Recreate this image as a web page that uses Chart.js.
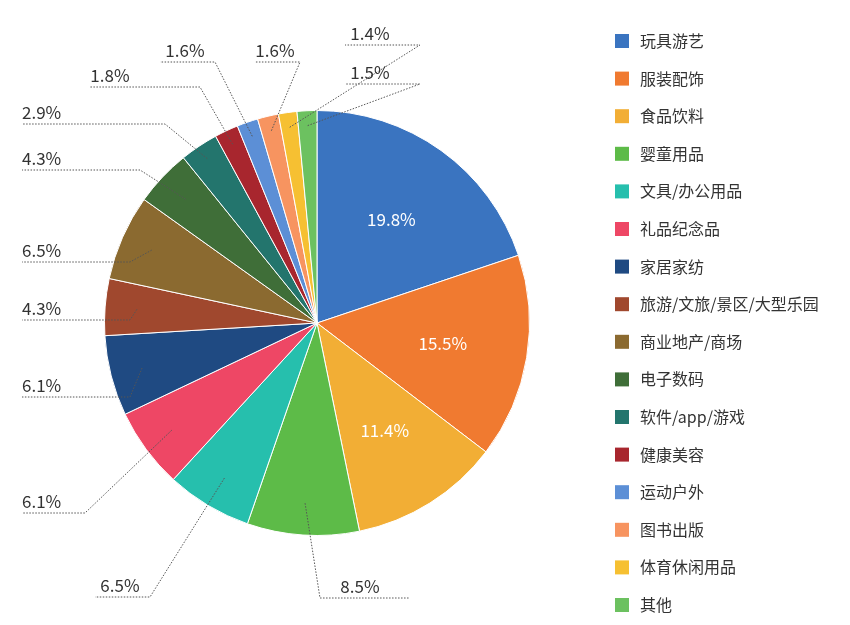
<!DOCTYPE html><html><head><meta charset="utf-8"><script src="https://cdn.jsdelivr.net/npm/chart.js@4"></script>
<style>body{margin:0;background:#fff}#w{width:850px;height:625px}</style></head><body><div id="w"><canvas id="c"></canvas></div>
<script>
const categories=["玩具游艺","服装配饰","食品饮料","婴童用品","文具/办公用品","礼品纪念品","家居家纺","旅游/文旅/景区/大型乐园","商业地产/商场","电子数码","软件/app/游戏","健康美容","运动户外","图书出版","体育休闲用品","其他"];
const shares=[19.8,15.5,11.4,8.5,6.5,6.1,6.1,4.3,6.5,4.3,2.9,1.8,1.6,1.6,1.4,1.5];
const colors=["#3a74c0","#f07a30","#f2ae35","#5dbb48","#26bfad","#ee4765","#1f4a82","#a0482e","#8b6a30","#3f6e38","#23756d","#a8262e","#5c8fd6","#f79460","#f6c032","#6cc160"];
const FONT='"Noto Sans CJK SC","Noto Sans",sans-serif';
// leader layout: [elbowX, elbowY, endX, textX, align]
const leaders={3:[320,598,410,360,'center'],4:[150,597,95,120,'center'],5:[85,513,22,22,'left'],6:[130,397,22,22,'left'],7:[130,320,22,22,'left'],8:[130,262,22,22,'left'],9:[140,170,22,22,'left'],10:[165,124,22,22,'left'],11:[200,87,90,110,'center'],12:[215,62,160,185,'center'],13:[300,62,255,275,'center'],14:[420,45,345,370,'center'],15:[420,84,345,370,'center']};
const labelPlugin={id:'lbl',afterDatasetsDraw(ch){
 const ctx=ch.ctx,meta=ch.getDatasetMeta(0);
 ctx.save();ctx.font='17px '+FONT;
 meta.data.forEach((a,i)=>{
  const mid=(a.startAngle+a.endAngle)/2,r=a.outerRadius;
  const t=shares[i].toFixed(1)+'%';
  if(!leaders[i]){ctx.fillStyle='#fff';ctx.textAlign='center';ctx.textBaseline='middle';
   ctx.fillText(t,a.x+Math.cos(mid)*r*0.6,a.y+Math.sin(mid)*r*0.6);return;}
  const L=leaders[i],k=shares[i]<3?0.93:0.85;
  const sx=a.x+Math.cos(mid)*r*k,sy=a.y+Math.sin(mid)*r*k;
  ctx.strokeStyle='#555';ctx.lineWidth=1;ctx.setLineDash([1.5,1.5]);
  ctx.beginPath();ctx.moveTo(sx,sy);ctx.lineTo(L[0],L[1]);ctx.lineTo(L[2],L[1]);ctx.stroke();
  ctx.setLineDash([]);ctx.fillStyle='#333';ctx.textAlign=L[4];ctx.textBaseline='bottom';
  ctx.fillText(t,L[3],L[1]-3);
 });
 ctx.font='16px '+FONT;ctx.textAlign='left';ctx.textBaseline='middle';
 categories.forEach((c,i)=>{const y=41+i*37.6;ctx.fillStyle=colors[i];ctx.fillRect(615,y-7,14,14);
  ctx.fillStyle='#333';ctx.fillText(c,640,y);});
 ctx.restore();}};
new Chart(document.getElementById('c'),{type:'pie',data:{labels:categories,datasets:[{data:shares,backgroundColor:colors,borderColor:'#fff',borderWidth:1}]},
options:{responsive:true,maintainAspectRatio:false,animation:false,layout:{padding:{left:104,right:320,top:110,bottom:89}},
plugins:{legend:{display:false},tooltip:{enabled:false}}},plugins:[labelPlugin]});
</script></body></html>
